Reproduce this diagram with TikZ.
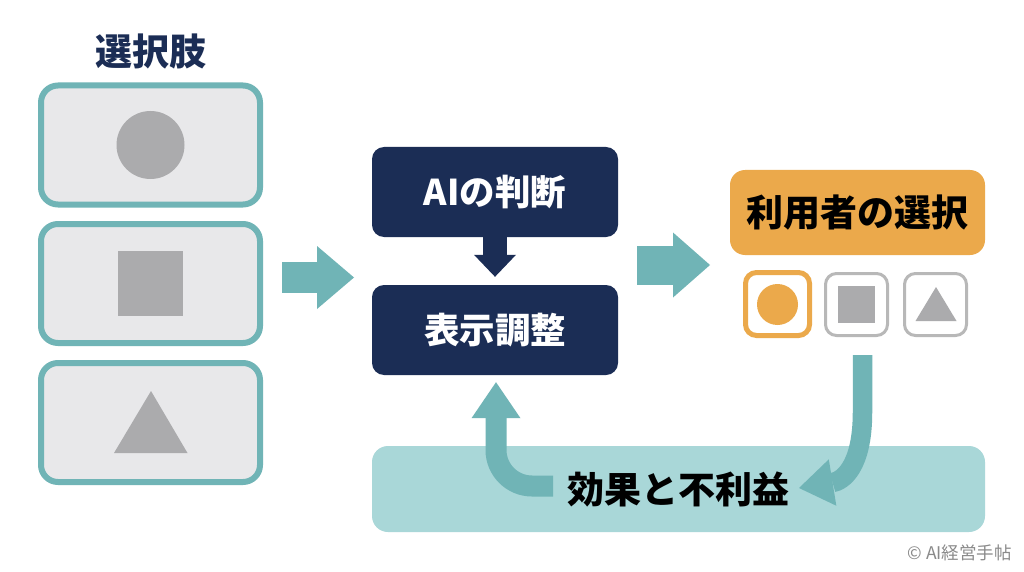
\documentclass[tikz,border=0pt]{standalone}
\usepackage{fontspec}
\newfontfamily\jp{Noto Sans CJK JP}
\usetikzlibrary{arrows.meta,shapes.geometric}
\definecolor{tealA}{HTML}{70B4B6}
\definecolor{navyA}{HTML}{1B2D55}
\definecolor{orangeA}{HTML}{EBA94B}
\definecolor{boxgray}{HTML}{E8E8EA}
\definecolor{shapegray}{HTML}{ABABAD}
\definecolor{linegray}{HTML}{B8B8B8}
\definecolor{barteal}{HTML}{A9D7D8}
\definecolor{copygray}{HTML}{8A8A8A}
\begin{document}
\begin{tikzpicture}[x=1pt,y=-1pt,
  optbox/.style={draw=tealA, line width=6pt, fill=boxgray, rounded corners=17pt,
    minimum width=219pt, minimum height=119pt, inner sep=0pt, outer sep=0pt},
  navybox/.style={fill=navyA, rounded corners=12pt, minimum width=246pt,
    minimum height=90pt, inner sep=0pt, text=white,
    font=\jp\bfseries\fontsize{35.5}{35.5}\selectfont},
  smallbox/.style={fill=white, rounded corners=11pt, inner sep=0pt, outer sep=0pt},
  gshape/.style={fill=shapegray, inner sep=0pt, outer sep=0pt},
  blockarrow/.style n args={3}{draw=tealA, line width=#1,
    -{Triangle[width=#2 0 0, length=#3 0 0, line width=0pt 0 0]}},
]
\useasboundingbox (0,0) rectangle (1024,572);
\fill[white] (0,0) rectangle (1024,572);

% title
\node[text=navyA, font=\jp\bfseries\fontsize{37}{37}\selectfont] (title) at (151,51) {選択肢};

% option boxes
\node[optbox] (opt1) at (150.5,145) {};
\node[optbox] (opt2) at (150.5,283.5) {};
\node[optbox] (opt3) at (150.5,422.5) {};
\node[gshape, circle, minimum size=68pt] (c1) at (opt1.center) {};
\node[gshape, minimum size=65pt] (s1) at (opt2.center) {};
\fill[shapegray] (151,391) -- (187.5,453) -- (114,453) -- cycle;

% arrow 1
\coordinate (a1s) at (282,277.5);
\coordinate (a1e) at (354,277.5);
\draw[blockarrow={31pt}{63pt}{37pt}] (a1s) -- (a1e);

% navy boxes
\node[navybox] (ai) at (495,192) {AIの判断};
\node[navybox] (disp) at (495,330) {表示調整};
\draw[blockarrow={24pt}{42pt}{22pt}, draw=navyA] (ai.south) -- ([yshift=8pt]disp.north);

% arrow 2
\coordinate (a2s) at (637,265);
\coordinate (a2e) at (710,265);
\draw[blockarrow={39pt}{65pt}{37pt}] (a2s) -- (a2e);

% user choice
\node[fill=orangeA, rounded corners=15pt, minimum width=255pt, minimum height=85pt,
  inner sep=0pt, font=\jp\bfseries\fontsize{37}{37}\selectfont] (user) at (857.5,212.5) {利用者の選択};

\node[smallbox, draw=orangeA, line width=5pt, minimum width=64pt, minimum height=63pt] (sa) at (777.5,304) {};
\node[smallbox, draw=linegray, line width=3pt, minimum width=62pt, minimum height=62pt] (sb) at (856.5,304.5) {};
\node[smallbox, draw=linegray, line width=3pt, minimum width=62pt, minimum height=62pt] (sc) at (935.5,304.5) {};
\node[fill=orangeA, circle, minimum size=41pt, inner sep=0pt] (ca) at (777.5,304.5) {};
\node[gshape, minimum size=37pt] (sqb) at (sb.center) {};
\fill[shapegray] (936,287) -- (956.5,321) -- (915.5,321) -- cycle;

% bottom bar
\node[fill=barteal, rounded corners=16pt, minimum width=613pt, minimum height=86pt,
  inner sep=0pt] (bar) at (678.5,489) {};
\node[font=\jp\bfseries\fontsize{37}{37}\selectfont, text=black] (eff) at (678,489) {効果と不利益};

% feedback arrows
\coordinate (upS) at (553,486);
\draw[blockarrow={21pt}{49pt}{36pt}, rounded corners=36pt] (upS) -| ([xshift=1pt,yshift=-7pt]disp.south);
\coordinate (dnS) at (862.5,355);
\coordinate (dnE) at (799,488);
\draw[blockarrow={19.5pt}{47pt}{34pt}] (dnS) -- (862.5,412) .. controls (862.5,468) and (842,481) .. (dnE);

% copyright
\node[anchor=east, text=copygray, font=\jp\fontsize{17.5}{17.5}\selectfont, inner sep=0pt] (copy) at (1012,552.5) {© AI経営手帖};
\end{tikzpicture}
\end{document}
